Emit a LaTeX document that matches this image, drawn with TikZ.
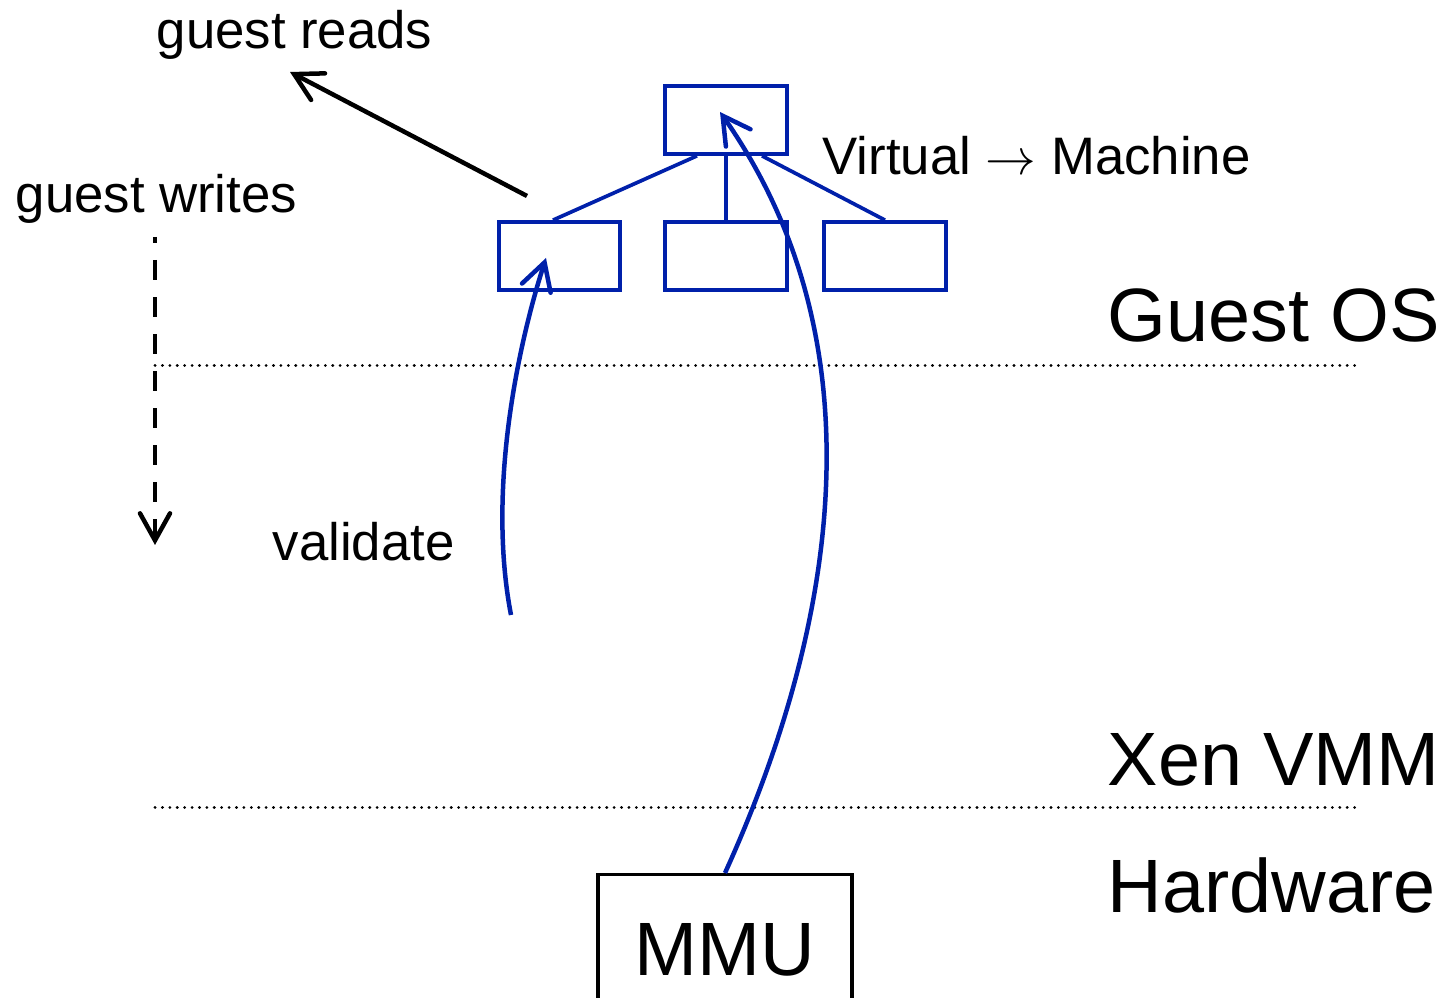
\documentclass[tikz,border=0pt]{standalone}
\usepackage{fontspec}
\setmainfont{Liberation Sans}
\usetikzlibrary{arrows.meta,calc}
\definecolor{xblue}{RGB}{0,32,170}
\tikzset{
  tbox/.style={draw=xblue,line width=0.037cm,minimum width=1.21cm,minimum height=0.68cm,inner sep=0pt},
  tline/.style={draw=xblue,line width=0.037cm},
  bluearr/.style={draw=xblue,line width=0.045cm,-{Straight Barb[length=0.27cm,width=0.3cm,line cap=round]}},
  blackarr/.style={draw=black,line width=0.045cm,-{Straight Barb[length=0.27cm,width=0.3cm,line cap=round]}},
  sep/.style={line width=0.03cm,dash pattern=on 0.001cm off 0.073cm,line cap=round},
  small/.style={font=\fontsize{15}{18}\selectfont,inner sep=0pt},
  big/.style={font=\fontsize{21.5}{25}\selectfont,inner sep=0pt},
}
\begin{document}
\begin{tikzpicture}[x=0.01cm,y=-0.01cm]
\useasboundingbox (0,0) rectangle (1447,998);
\clip (0,0) rectangle (1447,998);
% page table boxes
\node[tbox,minimum width=1.22cm] (top) at (726,120) {};
\node[tbox] (c1) at (559.5,256) {};
\node[tbox,minimum width=1.22cm] (c2) at (726,256) {};
\node[tbox,minimum width=1.22cm] (c3) at (885,256) {};
\draw[tline] ([xshift=-0.29cm]top.south) -- ([xshift=-0.065cm]c1.north);
\draw[tline] (top.south) -- (c2.north);
\draw[tline] ([xshift=0.36cm]top.south) -- (c3.north);
% MMU
\node[draw=black,line width=0.035cm,minimum width=2.54cm,minimum height=1.51cm,inner sep=0pt,anchor=north,big] (mmu) at (725,873) {MMU};
% separators
\coordinate (s1a) at (155,366);
\coordinate (s1b) at (1357,366);
\coordinate (s2a) at (155,808);
\coordinate (s2b) at (1357,808);
\draw[sep] (s1a) -- (s1b);
\draw[sep] (s2a) -- (s2b);
% labels
\node[small,anchor=base west] (reads) at (156,49) {guest reads};
\node[small,anchor=base west] (writes) at (15,213) {guest writes};
\node[small,anchor=base west] (v2m) at (822,175) {Virtual \(\rightarrow\) Machine};
\node[small,anchor=base west] (valid) at (272,561) {validate};
\node[big,anchor=base west] (gos) at (1107,342) {Guest OS};
\node[big,anchor=base west] (xen) at (1107,786) {Xen VMM};
\node[big,anchor=base west] (hw) at (1107,913) {Hardware};
% guest reads arrow
\coordinate (ra) at (527,196);
\coordinate (rb) at (290,72);
\draw[blackarr] (ra) -- (rb);
% guest writes dashed arrow
\coordinate (wa) at (155,237);
\coordinate (wb) at (155,545);
\draw[blackarr,dash pattern=on 0.2cm off 0.17cm,dash phase=0.14cm] (wa) -- (wb);
% validate curve
\coordinate (va) at (511,615);
\coordinate (vb) at (546,258);
\draw[bluearr] (va) .. controls (487,490) and (518,345) .. (vb);
% MMU curve
\coordinate (mb) at (720,112);
\draw[bluearr] (mmu.north) .. controls (840,620) and (880,340) .. (mb);
\end{tikzpicture}
\end{document}
